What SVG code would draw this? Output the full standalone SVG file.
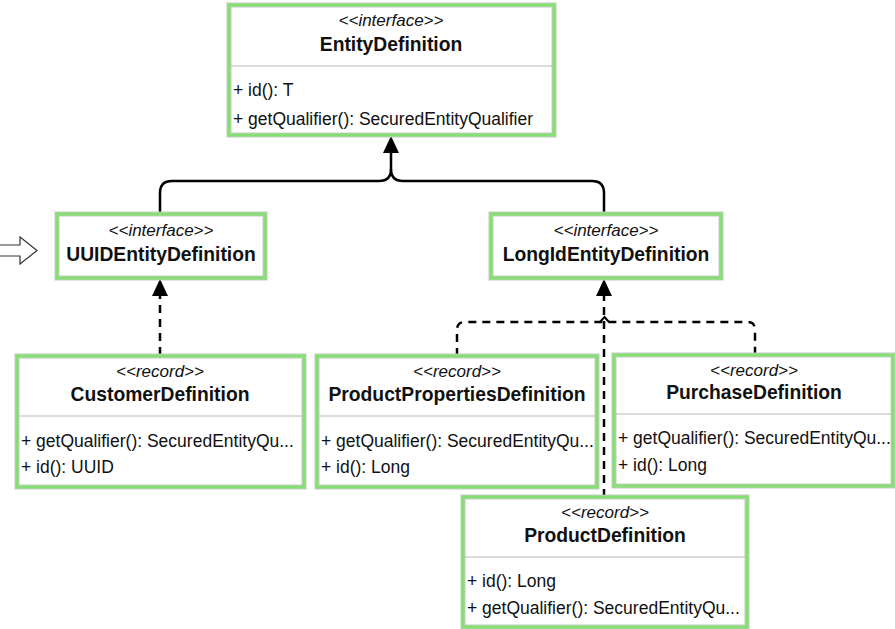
<svg xmlns="http://www.w3.org/2000/svg" width="895" height="629" viewBox="0 0 895 629">
  <style>
    .frame { fill: #ffffff; stroke: #c4ccc4; stroke-width: 5; }
    .hl { fill: none; stroke: #84e070; stroke-width: 3; }
    .sep { stroke: #b8b8b8; stroke-width: 1; }
    .stereo { font-family: "Liberation Sans", Arial, sans-serif; font-style: italic; font-size: 17px; fill: #111; text-anchor: middle; }
    .title { font-family: "Liberation Sans", Arial, sans-serif; font-weight: bold; font-size: 19.3px; fill: #111; text-anchor: middle; }
    .member { font-family: "Liberation Sans", Arial, sans-serif; font-size: 17.5px; fill: #111; }
    .solid { fill: none; stroke: #000; stroke-width: 2.5; }
    .dash { fill: none; stroke: #000; stroke-width: 2.5; stroke-dasharray: 8 6; }
    .head { fill: #000; stroke: none; }
  </style>

  <!-- connectors -->
  <g id="connectors">
    <!-- generalisation: UUID / LongId extend EntityDefinition -->
    <path class="solid" d="M160,212 V193 Q160,181 172,181 H379 Q391,181 391,169 V152"/>
    <path class="solid" d="M604,212 V193 Q604,181 592,181 H403 Q391,181 391,169"/>
    <polygon class="head" points="391,136 399,153 383,153"/>

    <!-- realisation: CustomerDefinition implements UUIDEntityDefinition -->
    <path class="dash" d="M160,355 V295"/>
    <polygon class="head" points="160,279 168,296 152,296"/>

    <!-- realisation: records implement LongIdEntityDefinition -->
    <path class="dash" d="M604,497 V296"/>
    <path class="dash" d="M457,356 V330 Q457,322 465,322 H747 Q755,322 755,330 V354"/>
    <path fill="none" stroke="#000" stroke-width="2" d="M600,322 L604.5,317 L609,322"/>
    <polygon class="head" points="604,279 612,296 596,296"/>

    <!-- block arrow at the left edge -->
    <polygon fill="#ffffff" stroke="#333" stroke-width="1.2" points="-2,245 20,245 20,237 37,250.5 20,264 20,256 -2,256"/>
  </g>

  <!-- EntityDefinition -->
  <g id="EntityDefinition">
    <rect class="frame" x="229" y="5" width="325" height="130"/>
    <rect class="hl" x="229" y="5" width="325" height="130"/>
    <line class="sep" x1="231" y1="66" x2="552" y2="66"/>
    <text class="stereo" x="391" y="26">&lt;&lt;interface&gt;&gt;</text>
    <text class="title" x="391" y="51">EntityDefinition</text>
    <text class="member" x="233" y="96">+ id(): T</text>
    <text class="member" x="233" y="125">+ getQualifier(): SecuredEntityQualifier</text>
  </g>

  <!-- UUIDEntityDefinition -->
  <g id="UUIDEntityDefinition">
    <rect class="frame" x="57" y="214" width="208" height="64"/>
    <rect class="hl" x="57" y="214" width="208" height="64"/>
    <text class="stereo" x="161" y="236">&lt;&lt;interface&gt;&gt;</text>
    <text class="title" x="161" y="261">UUIDEntityDefinition</text>
  </g>

  <!-- LongIdEntityDefinition -->
  <g id="LongIdEntityDefinition">
    <rect class="frame" x="491" y="214" width="230" height="64"/>
    <rect class="hl" x="491" y="214" width="230" height="64"/>
    <text class="stereo" x="606" y="236">&lt;&lt;interface&gt;&gt;</text>
    <text class="title" x="606" y="261">LongIdEntityDefinition</text>
  </g>

  <!-- CustomerDefinition -->
  <g id="CustomerDefinition">
    <rect class="frame" x="17" y="356" width="287" height="131"/>
    <rect class="hl" x="17" y="356" width="287" height="131"/>
    <line class="sep" x1="19" y1="416" x2="302" y2="416"/>
    <text class="stereo" x="160" y="377">&lt;&lt;record&gt;&gt;</text>
    <text class="title" x="160" y="401">CustomerDefinition</text>
    <text class="member" x="21" y="447">+ getQualifier(): SecuredEntityQu...</text>
    <text class="member" x="21" y="473">+ id(): UUID</text>
  </g>

  <!-- ProductPropertiesDefinition -->
  <g id="ProductPropertiesDefinition">
    <rect class="frame" x="317" y="356" width="280" height="131"/>
    <rect class="hl" x="317" y="356" width="280" height="131"/>
    <line class="sep" x1="319" y1="416" x2="595" y2="416"/>
    <text class="stereo" x="457" y="377">&lt;&lt;record&gt;&gt;</text>
    <text class="title" x="457" y="401">ProductPropertiesDefinition</text>
    <text class="member" x="321" y="447">+ getQualifier(): SecuredEntityQu...</text>
    <text class="member" x="321" y="473">+ id(): Long</text>
  </g>

  <!-- PurchaseDefinition -->
  <g id="PurchaseDefinition">
    <rect class="frame" x="614" y="355" width="279" height="131"/>
    <rect class="hl" x="614" y="355" width="279" height="131"/>
    <line class="sep" x1="616" y1="414" x2="891" y2="414"/>
    <text class="stereo" x="754" y="376">&lt;&lt;record&gt;&gt;</text>
    <text class="title" x="754" y="399">PurchaseDefinition</text>
    <text class="member" x="618" y="444">+ getQualifier(): SecuredEntityQu...</text>
    <text class="member" x="618" y="471">+ id(): Long</text>
  </g>

  <!-- ProductDefinition -->
  <g id="ProductDefinition">
    <rect class="frame" x="463" y="497" width="284" height="130"/>
    <rect class="hl" x="463" y="497" width="284" height="130"/>
    <line class="sep" x1="465" y1="557" x2="745" y2="557"/>
    <text class="stereo" x="605" y="518">&lt;&lt;record&gt;&gt;</text>
    <text class="title" x="605" y="542">ProductDefinition</text>
    <text class="member" x="467" y="587">+ id(): Long</text>
    <text class="member" x="467" y="614">+ getQualifier(): SecuredEntityQu...</text>
  </g>
</svg>
